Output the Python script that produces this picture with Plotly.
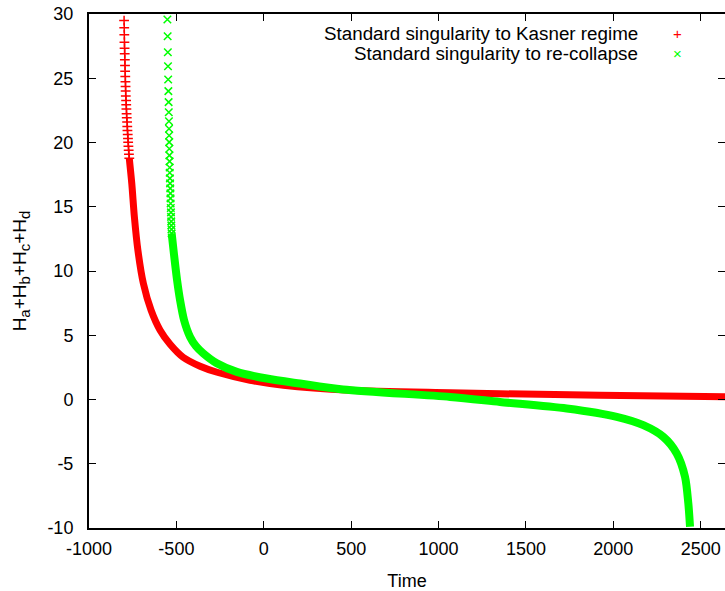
import plotly.graph_objects as go

# ---- data ----
# "Standard singularity to Kasner regime" (red '+')
kasner_sparse_t = [-799.2, -798.4, -797.9, -797.3, -796.5, -795.6, -794.8, -794.0, -793.2, -792.4,
                   -791.6, -790.9, -790.3, -789.5, -787.7, -787.0, -786.0, -785.0, -784.0, -782.0,
                   -781.0, -780.0, -778.5, -777.0, -776.0, -774.5, -773.0, -771.5, -769.5]
kasner_sparse_h = [29.49, 28.93, 28.38, 27.81, 27.34, 26.91, 26.44, 26.00, 25.55, 25.14,
                   24.73, 24.36, 24.00, 23.61, 23.27, 22.94, 22.60, 22.24, 21.93, 21.59,
                   21.25, 20.94, 20.63, 20.32, 20.01, 19.70, 19.39, 19.08, 18.77]
kasner_dense_t = [-769.5, -755.1, -740.3, -720.2, -688.8, -644.7, -593.2, -536.0, -461.7, -364.4,
                  -267.1, -78.3, 112.0, 493.8, 1065.9, 1351.9, 1924.0, 2639.0]
kasner_dense_h = [18.77, 16.80, 14.20, 11.61, 9.02, 6.94, 5.39, 4.30, 3.29, 2.59,
                  2.12, 1.50, 1.11, 0.72, 0.53, 0.45, 0.33, 0.22]

# "Standard singularity to re-collapse" (green 'x')
recollapse_sparse_t = [-551.5, -550.0, -549.0, -548.0, -547.0, -546.0, -544.5, -543.5, -542.5, -542.0,
                       -541.5, -541.0, -540.5, -540.0, -539.0, -538.5, -538.0, -537.0, -536.0, -535.0,
                       -534.0, -533.5, -533.0, -532.0, -531.0, -530.5, -529.5, -529.0, -528.0, -527.0]
recollapse_sparse_h = [29.57, 28.27, 27.03, 25.94, 24.91, 24.00, 23.14, 22.36, 21.66, 21.07,
                       20.55, 20.03, 19.52, 19.00, 18.53, 18.06, 17.64, 17.21, 16.82, 16.43,
                       16.04, 15.65, 15.26, 14.91, 14.56, 14.21, 13.86, 13.55, 13.24, 12.93]
recollapse_dense_t = [-527.0, -513.1, -496.0, -478.8, -455.9, -421.6, -387.3, -347.2, -268.9, -154.4,
                      17.2, 207.7, 453.7, 1065.9, 1351.9, 1733.5, 2019.5, 2171.7, 2286.1, 2362.8,
                      2410.3, 2429.2, 2438.9]
recollapse_dense_h = [12.93, 11.22, 9.28, 7.72, 6.17, 4.87, 4.14, 3.60, 2.82, 2.15,
                      1.63, 1.24, 0.78, 0.20, -0.19, -0.70, -1.35, -2.00, -2.91, -4.20,
                      -6.02, -8.09, -9.91]

x_ticks = [-1000, -500, 0, 500, 1000, 1500, 2000, 2500]
x_tick_labels = ["-1000", "-500", "0", "500", "1000", "1500", "2000", "2500"]
y_ticks = [-10, -5, 0, 5, 10, 15, 20, 25, 30]
y_tick_labels = ["-10", "-5", "0", "5", "10", "15", "20", "25", "30"]
legend_labels = ["Standard singularity to Kasner regime", "Standard singularity to re-collapse"]
series_colors = ["#ff0000", "#00ff00"]

FONT = "Liberation Sans, Arial, sans-serif"
FS = 18

fig = go.Figure()

# red series
fig.add_trace(go.Scatter(x=kasner_dense_t, y=kasner_dense_h, mode="lines",
                         line=dict(color=series_colors[0], width=7, shape="spline", smoothing=0.8),
                         showlegend=False, hoverinfo="skip"))
fig.add_trace(go.Scatter(x=kasner_sparse_t, y=kasner_sparse_h, mode="markers",
                         marker=dict(symbol="cross-thin", size=7,
                                     line=dict(color=series_colors[0], width=1.5)),
                         showlegend=False, hoverinfo="skip"))
# green series
fig.add_trace(go.Scatter(x=recollapse_dense_t, y=recollapse_dense_h, mode="lines",
                         line=dict(color=series_colors[1], width=8, shape="spline", smoothing=0.8),
                         showlegend=False, hoverinfo="skip"))
fig.add_trace(go.Scatter(x=recollapse_sparse_t, y=recollapse_sparse_h, mode="markers",
                         marker=dict(symbol="x-thin", size=7.5,
                                     line=dict(color=series_colors[1], width=1.5)),
                         showlegend=False, hoverinfo="skip"))
# empty trace to carry the right-hand mirror ticks
fig.add_trace(go.Scatter(x=[], y=[], yaxis="y2", showlegend=False, hoverinfo="skip"))

sub = lambda s: '<sub><span style="font-size:15px">' + s + '</span></sub>'
ytitle = "H" + sub("a") + "+H" + sub("b") + "+H" + sub("c") + "+H" + sub("d")

fig.update_layout(
    width=725, height=591,
    margin=dict(l=89, r=0, t=14, b=63, autoexpand=False),
    paper_bgcolor="white", plot_bgcolor="white",
    font=dict(family=FONT, size=FS, color="black"),
    showlegend=False,
    xaxis=dict(range=[-1000, 2639], tickvals=x_ticks, ticktext=x_tick_labels,
               ticks="inside", ticklen=7, tickwidth=1, automargin=False,
               tickcolor="black", showline=True, linecolor="black", linewidth=2, mirror="ticks",
               showgrid=False, zeroline=False, ticklabelstandoff=3,
               title=dict(text="Time", standoff=18, font=dict(size=FS))),
    yaxis=dict(range=[-10, 30], tickvals=y_ticks, ticktext=y_tick_labels,
               ticks="inside", ticklen=7, tickwidth=1, automargin=False,
               tickcolor="black", showline=True, linecolor="black", linewidth=2,
               showgrid=False, zeroline=False, ticklabelstandoff=10,
               title=dict(text=ytitle, standoff=16, font=dict(size=19))),
    yaxis2=dict(range=[-10, 30], tickvals=y_ticks, overlaying="y", side="right", ticks="inside",
                ticklen=7, tickwidth=1, tickcolor="black", showticklabels=False, automargin=False,
                showline=False, showgrid=False, zeroline=False),
)

# gnuplot-style key: right-justified text followed by sample symbol
key_rows_y = [0.963, 0.924]
key_symbols = ["+", "\u00d7"]
for label, color, sym, yy in zip(legend_labels, series_colors, key_symbols, key_rows_y):
    fig.add_annotation(x=0.866, y=yy, xref="paper", yref="paper", text=label,
                       showarrow=False, xanchor="right", yanchor="middle",
                       font=dict(family=FONT, size=18.8, color="black"))
    fig.add_annotation(x=0.926, y=yy, xref="paper", yref="paper", text=sym,
                       showarrow=False, xanchor="center", yanchor="middle",
                       font=dict(family=FONT, size=15, color=color))

fig.write_html("out.html", config={"displayModeBar": False},
               post_script="document.body.style.margin='0px';document.body.style.overflow='hidden';")
